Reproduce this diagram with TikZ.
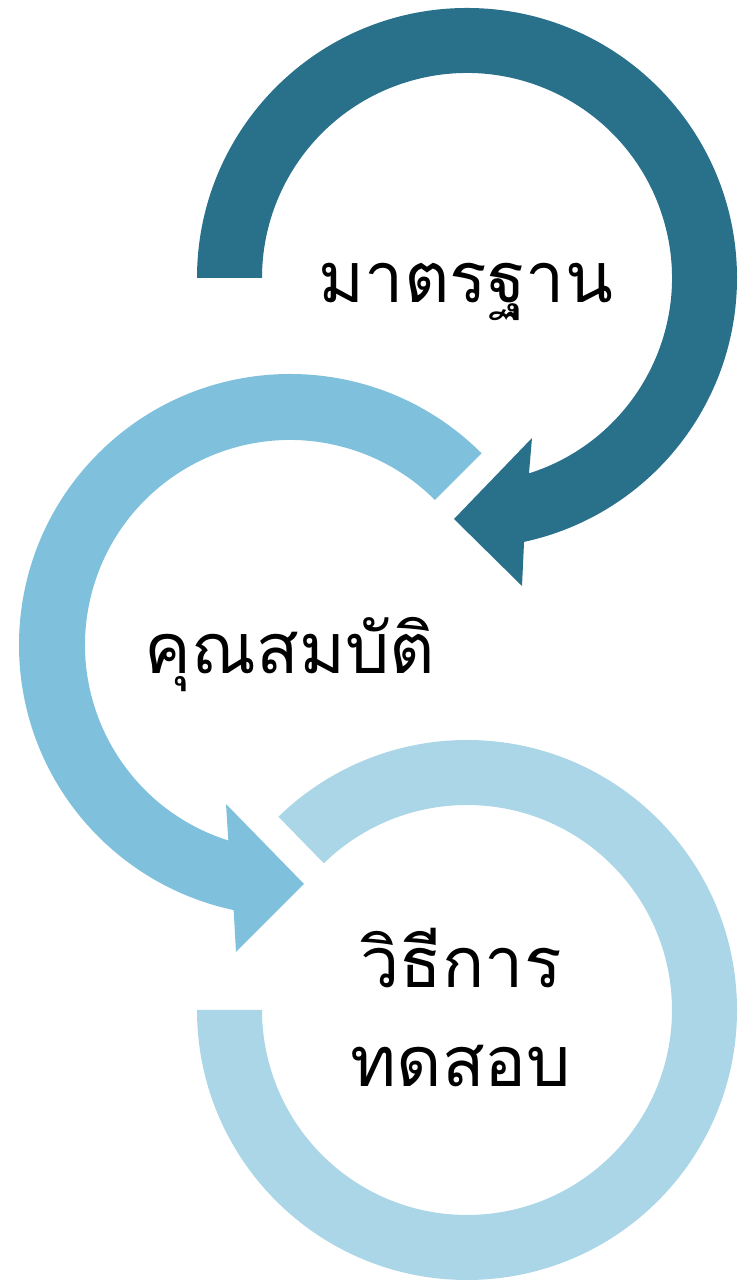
\documentclass[tikz,border=0pt]{standalone}
\usepackage{fontspec}
\usetikzlibrary{calc}
\newfontfamily\thaifont[Script=Thai]{Loma}
\definecolor{ringdark}{HTML}{29708B}
\definecolor{ringmid}{HTML}{7FC0DC}
\definecolor{ringlight}{HTML}{ABD6E7}
\begin{document}
\begin{tikzpicture}[x=1pt,y=1pt,
  steplabel/.style={font=\thaifont\fontsize{70}{99}\selectfont, text=black,
    inner sep=0pt, anchor=base, align=center}]
\useasboundingbox (0,0) rectangle (737,1281);
% ring centres
\coordinate (c1) at (467,1003);
\coordinate (c2) at (290,636);
\coordinate (c3) at (467,271);
% top ring: clockwise, ending in an arrowhead
\fill[ringdark] ($(c1)+(180:270)$) arc[start angle=180, end angle=-77.8, radius=270]
  -- (522,695) -- (454,762) -- (532,843)
  -- ($(c1)+(-72.4:205)$) arc[start angle=-72.4, end angle=180, radius=205] -- cycle;
% middle ring: counter-clockwise, ending in an arrowhead
\fill[ringmid] ($(c2)+(45:271)$) arc[start angle=45, end angle=258, radius=271]
  -- (236,329) -- (304,397) -- (226,477)
  -- ($(c2)+(252.5:205)$) arc[start angle=252.5, end angle=45, radius=205] -- cycle;
% bottom ring: open arc without a head
\fill[ringlight] ($(c3)+(-180:270)$) arc[start angle=-180, end angle=134.3, radius=270]
  -- ($(c3)+(134.3:205)$) arc[start angle=134.3, end angle=-180, radius=205] -- cycle;
% labels (base anchor of a two-line node sits on its last line)
\node[steplabel] (t1) at (466,978) {มาตรฐาน};
\node[steplabel] (t2) at (290,607) {คุณสมบัติ};
\node[steplabel] (t3) at (461,194) {วิธีการ\\ทดสอบ};
\end{tikzpicture}
\end{document}
